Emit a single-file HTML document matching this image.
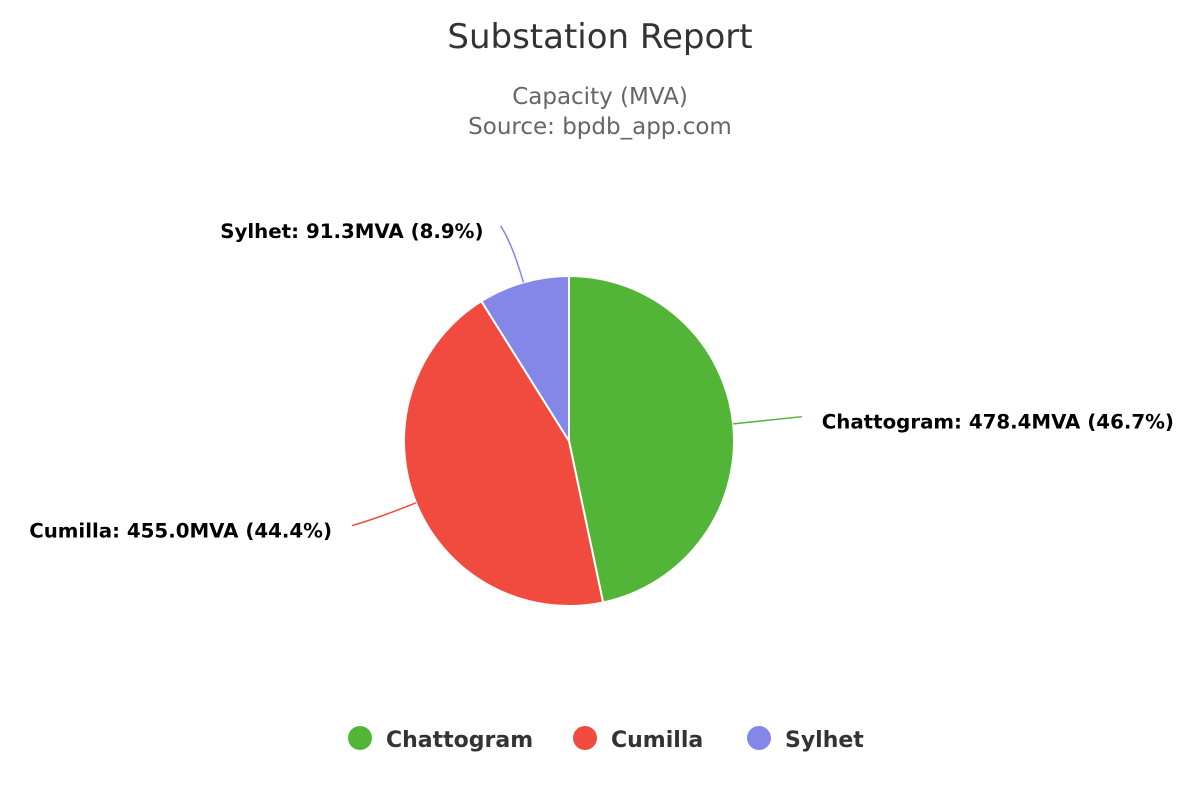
<!DOCTYPE html>
<html><head><meta charset="utf-8"><style>
html,body{margin:0;padding:0;background:#fff;}
svg{display:block;font-family:"DejaVu Sans","Liberation Sans",sans-serif;}
</style></head><body>
<svg id="chart" width="1200" height="800" viewBox="0 0 1200 800">
<text x="600" y="48" text-anchor="middle" font-size="34" fill="#333">Substation Report</text>
<text x="600" y="104" text-anchor="middle" font-size="23" fill="#666">Capacity (MVA)</text>
<text x="600" y="134" text-anchor="middle" font-size="23" fill="#666">Source: bpdb_app.com</text>
<g id="slices"></g>
<g id="labels"></g>
<g id="legend"></g>
</svg>
<script>
const categories = ["Chattogram", "Cumilla", "Sylhet"];
const values = [478.4, 455.0, 91.3];
const colors = ["#52b538", "#f04b3e", "#8287e8"];
const NS = "http://www.w3.org/2000/svg";
const cx = 569, cy = 441, r = 165;
const total = values.reduce((a,b)=>a+b,0);
const sl = document.getElementById('slices'), lb = document.getElementById('labels'), lg = document.getElementById('legend');
function pt(a, rad){ return [cx + rad*Math.sin(a), cy - rad*Math.cos(a)]; }
let start = 0;
values.forEach((v,i)=>{
  const ang = v/total*2*Math.PI, end = start+ang;
  const [x1,y1]=pt(start,r),[x2,y2]=pt(end,r);
  const p=document.createElementNS(NS,'path');
  p.setAttribute('d',`M${cx},${cy} L${x1},${y1} A${r},${r} 0 ${ang>Math.PI?1:0} 1 ${x2},${y2} Z`);
  p.setAttribute('fill',colors[i]); p.setAttribute('stroke','#fff'); p.setAttribute('stroke-width','2');
  
  
  sl.appendChild(p);
  const mid=start+ang/2;
  const top = Math.cos(mid)>0.8;
  const [ex,ey]=pt(mid,r), [mx,my]=pt(mid,r+40), [tx0,ty0]=pt(mid,top?226:234);
  const right=Math.sin(mid)>=0;
  const tx = tx0 + (top?-6:0);
  const ty = ty0 + (top?2:(right?0:-3));
  const c=document.createElementNS(NS,'path');
  c.setAttribute('d',`M${ex},${ey} Q${mx},${my} ${tx},${ty}`);
  c.setAttribute('fill','none'); c.setAttribute('stroke',colors[i]); c.setAttribute('stroke-width','1.5');
  
  
  lb.appendChild(c);
  const t=document.createElementNS(NS,'text');
  t.setAttribute('x', right? tx+20 : tx-(top?17:20));
  t.setAttribute('y', ty+12);
  t.setAttribute('text-anchor', right?'start':'end');
  t.setAttribute('font-size','19.8'); t.setAttribute('font-weight','bold'); t.setAttribute('fill','#000');
  t.textContent = `${categories[i]}: ${v.toFixed(1)}MVA (${(v/total*100).toFixed(1)}%)`;
  
  
  lb.appendChild(t);
  start=end;
});
const legendX=[360,585,759];
categories.forEach((c,i)=>{
  const g=document.createElementNS(NS,'g');
  
  
  const ci=document.createElementNS(NS,'circle');
  ci.setAttribute('cx',legendX[i]); ci.setAttribute('cy',738); ci.setAttribute('r',12); ci.setAttribute('fill',colors[i]);
  g.appendChild(ci);
  const t=document.createElementNS(NS,'text');
  t.setAttribute('x',legendX[i]+26); t.setAttribute('y',747);
  t.setAttribute('font-size','22'); t.setAttribute('font-weight','bold'); t.setAttribute('fill','#333');
  t.textContent=c;
  g.appendChild(t);
  lg.appendChild(g);
});
</script>
</body></html>
